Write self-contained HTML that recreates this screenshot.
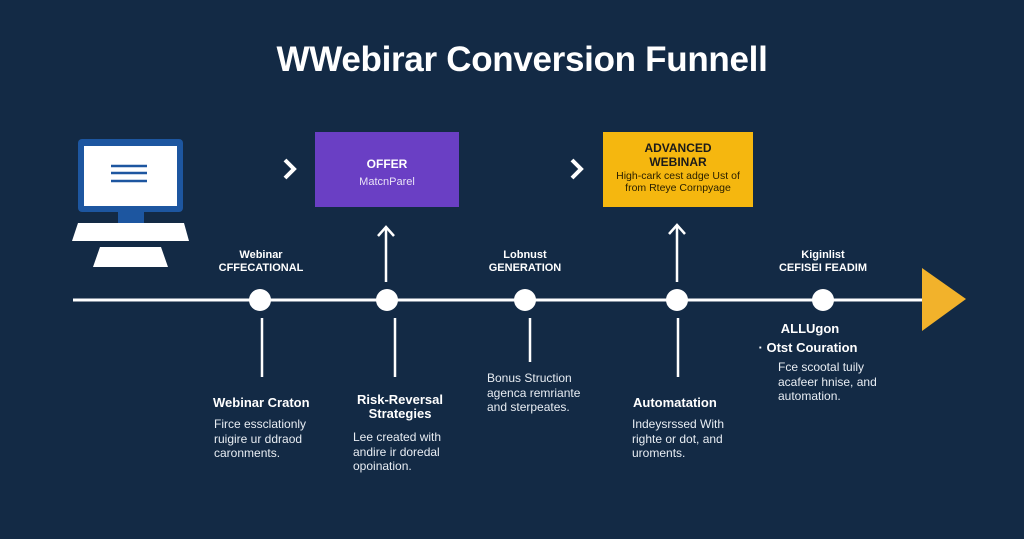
<!DOCTYPE html>
<html><head><meta charset="utf-8"><style>
*{margin:0;padding:0;box-sizing:border-box}
body{width:1024px;height:539px;background:#132a45;position:relative;overflow:hidden;font-family:"Liberation Sans",sans-serif;color:#fff}
.a{position:absolute;white-space:nowrap}
.c{transform:translateX(-50%);text-align:center}
.b{font-weight:bold}
.s{font-size:12px;line-height:14.5px;color:#e8edf3}
.h{font-size:13px;font-weight:bold}
.l{font-size:11px;font-weight:bold;line-height:13px;text-align:center}
</style></head><body>
<div class="a c b" style="left:522px;top:40px;font-size:35px;letter-spacing:-0.3px">WWebirar Conversion Funnell</div>
<svg class="a" style="left:0;top:0" width="1024" height="539">
<line x1="73" y1="300" x2="930" y2="300" stroke="#fff" stroke-width="3"/>
<polygon points="922,268 966,299 922,331" fill="#f2b22b"/>
<g fill="#fff"><circle cx="260" cy="300" r="11"/><circle cx="387" cy="300" r="11"/><circle cx="525" cy="300" r="11"/><circle cx="677" cy="300" r="11"/><circle cx="823" cy="300" r="11"/></g>
<g stroke="#fff" stroke-width="2.5" fill="none">
<line x1="262" y1="318" x2="262" y2="377"/><line x1="395" y1="318" x2="395" y2="377"/><line x1="530" y1="318" x2="530" y2="362"/><line x1="678" y1="318" x2="678" y2="377"/>
<line x1="386" y1="282" x2="386" y2="228"/><polyline points="378,236 386,227 394,236"/>
<line x1="677" y1="282" x2="677" y2="226"/><polyline points="669,234 677,225 685,234"/>
<polyline points="285,160 294,169 285,178" stroke-width="4"/><polyline points="572,160 581,169 572,178" stroke-width="4"/>
</g>
<rect x="78" y="139" width="105" height="73" rx="4" fill="#1d56a0"/>
<rect x="84" y="146" width="93" height="60" fill="#fff"/>
<g stroke="#1d56a0" stroke-width="2.5"><line x1="111" y1="166" x2="147" y2="166"/><line x1="111" y1="173" x2="147" y2="173"/><line x1="111" y1="181" x2="147" y2="181"/></g>
<rect x="118" y="212" width="26" height="11" fill="#1d56a0"/>
<polygon points="78,223 184,223 189,241 72,241" fill="#fff"/>
<polygon points="100,247 161,247 168,267 93,267" fill="#fff"/>
<rect x="315" y="132" width="144" height="75" fill="#6a3fc4"/>
<rect x="603" y="132" width="150" height="75" fill="#f5b70f"/>
</svg>
<div class="a c b" style="left:387px;top:157px;font-size:12px">OFFER</div>
<div class="a c" style="left:387px;top:176px;font-size:11px;color:#e9e2f7">MatcnParel</div>
<div class="a c b" style="left:678px;top:141px;font-size:12px;line-height:14px;color:#1a1a1a">ADVANCED<br>WEBINAR</div>
<div class="a c" style="left:678px;top:170px;font-size:10.5px;line-height:12px;color:#2a2000">High-cark cest adge Ust of<br>from Rteye Cornpyage</div>
<div class="a c l" style="left:261px;top:249px">Webinar<br>CFFECATIONAL</div>
<div class="a c l" style="left:525px;top:249px">Lobnust<br>GENERATION</div>
<div class="a c l" style="left:823px;top:249px">Kiginlist<br>CEFISEI FEADIM</div>
<div class="a h" style="left:213px;top:395px">Webinar Craton</div>
<div class="a s" style="left:214px;top:417px">Firce essclationly<br>ruigire ur ddraod<br>caronments.</div>
<div class="a c h" style="left:400px;top:393px;line-height:14px">Risk-Reversal<br>Strategies</div>
<div class="a s" style="left:353px;top:430px">Lee created with<br>andire ir doredal<br>opoination.</div>
<div class="a s" style="left:487px;top:371px">Bonus Struction<br>agenca remriante<br>and sterpeates.</div>
<div class="a h" style="left:633px;top:395px">Automatation</div>
<div class="a s" style="left:632px;top:417px">Indeysrssed With<br>righte or dot, and<br>uroments.</div>
<div class="a c h" style="left:810px;top:321px">ALLUgon</div>
<div class="a c h" style="left:808px;top:340px">· Otst Couration</div>
<div class="a s" style="left:778px;top:360px">Fce scootal tuily<br>acafeer hnise, and<br>automation.</div>
</body></html>
